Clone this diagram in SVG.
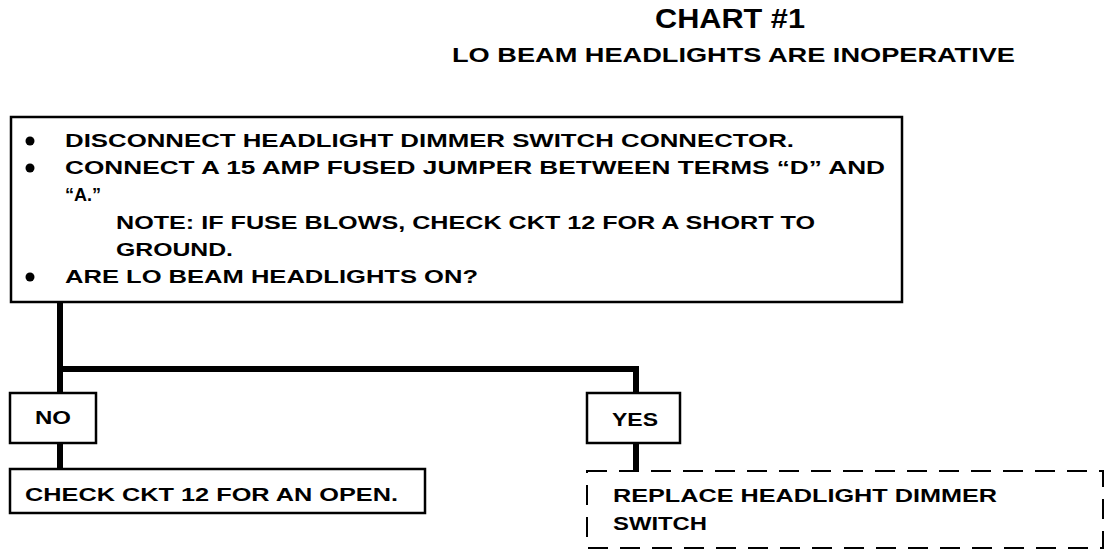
<svg xmlns="http://www.w3.org/2000/svg" width="1120" height="556" viewBox="0 0 1120 556">
<style>
text{font-family:"Liberation Sans",Arial,sans-serif;font-weight:bold;fill:#000}
.t{font-size:18px}
.box{fill:#fff;stroke:#000;stroke-width:2.5}
.dash{fill:#fff;stroke:#000;stroke-width:2;stroke-dasharray:20 12}
.con{fill:none;stroke:#000;stroke-width:6;stroke-linejoin:miter}
</style>
<rect width="1120" height="556" fill="#fff"/>
<g id="title">
<text x="655" y="28" font-size="27" textLength="150" lengthAdjust="spacingAndGlyphs">CHART #1</text>
<text x="452" y="62" font-size="20" textLength="563" lengthAdjust="spacingAndGlyphs">LO BEAM HEADLIGHTS ARE INOPERATIVE</text>
</g>
<g id="connectors">
<path class="con" d="M60 302 V393"/>
<path class="con" d="M60 369 H636 V393"/>
<path class="con" d="M60 443 V469"/>
<path class="con" d="M636 443 V471"/>
</g>
<g id="start">
<rect class="box" x="11" y="117" width="891" height="185"/>
<circle cx="30" cy="141" r="4.5"/>
<circle cx="30" cy="168" r="4.5"/>
<circle cx="30" cy="277" r="4.5"/>
<text class="t" x="65" y="147" textLength="729" lengthAdjust="spacingAndGlyphs">DISCONNECT HEADLIGHT DIMMER SWITCH CONNECTOR.</text>
<text class="t" x="65" y="174" textLength="820" lengthAdjust="spacingAndGlyphs">CONNECT A 15 AMP FUSED JUMPER BETWEEN TERMS “D” AND</text>
<text class="t" x="65" y="201">“A.”</text>
<text class="t" x="116" y="229" textLength="699" lengthAdjust="spacingAndGlyphs">NOTE: IF FUSE BLOWS, CHECK CKT 12 FOR A SHORT TO</text>
<text class="t" x="116" y="256" textLength="117" lengthAdjust="spacingAndGlyphs">GROUND.</text>
<text class="t" x="65" y="283" textLength="413" lengthAdjust="spacingAndGlyphs">ARE LO BEAM HEADLIGHTS ON?</text>
</g>
<g id="no">
<rect class="box" x="10" y="393" width="86" height="50"/>
<text class="t" x="35" y="424" textLength="36" lengthAdjust="spacingAndGlyphs">NO</text>
</g>
<g id="yes">
<rect class="box" x="587" y="393" width="93" height="50"/>
<text class="t" x="612" y="426" textLength="46" lengthAdjust="spacingAndGlyphs">YES</text>
</g>
<g id="open">
<rect class="box" x="10" y="469" width="415" height="44"/>
<text class="t" x="25" y="501" textLength="373" lengthAdjust="spacingAndGlyphs">CHECK CKT 12 FOR AN OPEN.</text>
</g>
<g id="replace">
<rect class="dash" x="587" y="471" width="516" height="77"/>
<text class="t" x="613" y="502" textLength="384" lengthAdjust="spacingAndGlyphs">REPLACE HEADLIGHT DIMMER</text>
<text class="t" x="613" y="530" textLength="94" lengthAdjust="spacingAndGlyphs">SWITCH</text>
</g>
</svg>
